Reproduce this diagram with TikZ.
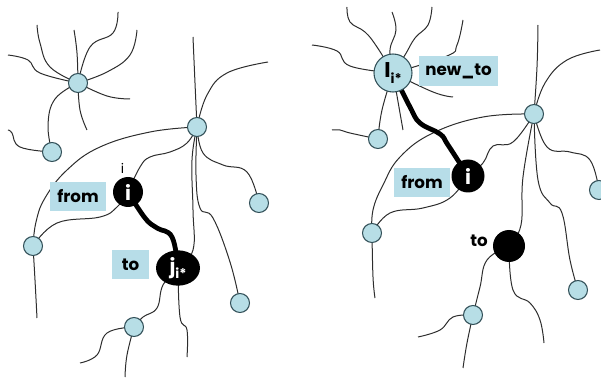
\documentclass[tikz,border=0pt]{standalone}
\usepackage{fontspec}
\setmainfont{Poppins}
\usetikzlibrary{backgrounds,shapes.geometric}
\definecolor{nfill}{RGB}{183,222,230}
\definecolor{nedge}{RGB}{50,80,88}
\definecolor{lfill}{RGB}{183,221,232}
\definecolor{dend}{RGB}{45,45,45}
\tikzset{
 neuron/.style={circle, fill=nfill, draw=nedge, line width=0.8pt, minimum size=14.25pt, inner sep=0pt},
 blk/.style={circle, fill=black, inner sep=0pt, text=white, font=\bfseries\fontsize{15}{15}\selectfont},
 lbl/.style={fill=lfill, inner sep=0pt, font=\bfseries\fontsize{12.5}{12.5}\selectfont, minimum height=21.75pt},
 dendrite/.style={draw=dend, line width=0.75pt},
 axon/.style={draw=black, line width=3.6pt},
}
\begin{document}
\begin{tikzpicture}[x=0.75pt,y=-0.75pt]
\useasboundingbox (0,0) rectangle (601,378);
% ---------- left panel nodes
\node[neuron] (A) at (78,83) {};
\node[neuron] (B) at (52,152) {};
\node[neuron] (C) at (197,127) {};
\node[neuron] (D) at (33,246) {};
\node[neuron] (E) at (259,203) {};
\node[neuron] (F) at (240,303) {};
\node[neuron] (G) at (134,327) {};
\node[blk, minimum size=22.5pt] (i1) at (128,192) {i};
\node[ellipse, fill=black, inner sep=0pt, minimum width=33pt, minimum height=26.5pt, text=white, font=\bfseries\fontsize{15}{15}\selectfont] (j) at (178,268) {j\raisebox{-0.45ex}{\fontsize{10}{10}\selectfont i*}};
\node[font=\fontsize{10}{10}\selectfont, inner sep=0pt, anchor=base] (tick) at (122.5,174) {i};
\node[lbl, minimum width=42pt] (lfrom) at (78,196.5) {from};
\node[lbl, minimum width=27.75pt] (lto) at (130.5,264.5) {to};
% free ends
\coordinate (a1) at (37,25);
\coordinate (a2) at (74,30);
\coordinate (a3) at (118,12);
\coordinate (a4) at (137,30);
\coordinate (a5) at (8,55);
\coordinate (a6) at (130,99);
\coordinate (a7) at (87,130);
\coordinate (b1) at (8,130);
\coordinate (c1) at (193,37);
\coordinate (c2) at (268,62);
\coordinate (d1) at (37,318);
\coordinate (g1) at (80,363);
\coordinate (g2) at (125,377);
\coordinate (j1) at (187,357);
% ---------- right panel nodes
\node[neuron, minimum size=28.5pt, text=black, font=\bfseries\fontsize{16}{16}\selectfont] (L) at (393,73) {I\raisebox{-0.45ex}{\fontsize{10}{10}\selectfont i*}};
\node[neuron] (M) at (378,139) {};
\node[neuron] (N) at (534,114) {};
\node[neuron] (O) at (372,233) {};
\node[neuron] (P) at (599,190) {};
\node[neuron] (R) at (578,290) {};
\node[neuron] (Q) at (473,315) {};
\node[blk, minimum size=24.75pt] (i2) at (468,176) {i};
\node[blk, minimum size=24pt] (T) at (509,246) {};
\node[lbl, minimum width=59.25pt, minimum height=22.5pt] (lnew) at (458.5,71) {new\_to};
\node[lbl, minimum width=42pt] (rfrom) at (422,182.5) {from};
\node[font=\bfseries\fontsize{12.5}{12.5}\selectfont, inner sep=0pt] (rto) at (479,241) {to};
\coordinate (l1) at (347,7);
\coordinate (l2) at (392,12);
\coordinate (l3) at (432,7);
\coordinate (l4) at (463,20);
\coordinate (l5) at (312,45);
\coordinate (l6) at (453,97);
\coordinate (l7) at (403,130);
\coordinate (m1) at (332,130);
\coordinate (n1) at (538,25);
\coordinate (n2) at (600,50);
\coordinate (o1) at (375,298);
\coordinate (t1) at (544,343);
\coordinate (q1) at (418,337);
\coordinate (q2) at (463,368);
\begin{scope}[on background layer]
% left panel dendrites
\draw[dendrite] plot[smooth, tension=0.7] coordinates {(A.center) (50,67) (40,43) (a1)};
\draw[dendrite] plot[smooth, tension=0.7] coordinates {(A.center) (77,53) (a2)};
\draw[dendrite] plot[smooth, tension=0.7] coordinates {(A.center) (90,47) (113,33) (a3)};
\draw[dendrite] plot[smooth, tension=0.7] coordinates {(A.center) (107,72) (130,55) (a4)};
\draw[dendrite] plot[smooth, tension=0.7] coordinates {(A.center) (40,73) (28,60) (a5)};
\draw[dendrite] plot[smooth, tension=0.7] coordinates {(A.center) (107,96) (a6)};
\draw[dendrite] plot[smooth, tension=0.7] coordinates {(A.center) (80,110) (a7)};
\draw[dendrite] plot[smooth, tension=0.7] coordinates {(A.center) (55,99) (48,125) (B.center)};
\draw[dendrite] plot[smooth, tension=0.7] coordinates {(B.center) (20,147) (12,133) (b1)};
\draw[dendrite] plot[smooth, tension=0.7] coordinates {(C.center) (195,83) (c1)};
\draw[dendrite] plot[smooth, tension=0.7] coordinates {(C.center) (207,95) (227,73) (c2)};
\draw[dendrite] plot[smooth, tension=0.7] coordinates {(C.center) (150,132) (100,147) (67,170) (45,198) (36,222) (D.center)};
\draw[dendrite] plot[smooth, tension=0.7] coordinates {(C.center) (187,143) (170,152) (150,157) (140,167) (i1.center)};
\draw[dendrite] plot[smooth, tension=0.7] coordinates {(C.center) (203,153) (223,165) (247,172) (E.center)};
\draw[dendrite] plot[smooth, tension=0.7] coordinates {(C.center) (192,160) (193,210) (193,250) (j.center)};
\draw[dendrite] plot[smooth, tension=0.7] coordinates {(C.center) (196,175) (200,208) (213,218) (230,262) (F.center)};
\draw[dendrite] plot[smooth, tension=0.7] coordinates {(D.center) (57,223) (100,217) (117,207) (i1.center)};
\draw[dendrite] plot[smooth, tension=0.7] coordinates {(D.center) (35,280) (d1)};
\draw[dendrite] plot[smooth, tension=0.7] coordinates {(j.center) (163,285) (157,308) (143,317) (G.center)};
\draw[dendrite] plot[smooth, tension=0.7] coordinates {(j.center) (180,317) (187,330) (j1)};
\draw[dendrite] plot[smooth, tension=0.7] coordinates {(G.center) (107,333) (97,355) (g1)};
\draw[dendrite] plot[smooth, tension=0.7] coordinates {(G.center) (127,355) (g2)};
\draw[axon] plot[smooth, tension=0.7] coordinates {(i1.center) (145,218) (157,228) (172,237) (j.center)};
% right panel dendrites
\draw[dendrite] plot[smooth, tension=0.7] coordinates {(L.center) (377,47) (365,32) (350,22) (l1)};
\draw[dendrite] plot[smooth, tension=0.7] coordinates {(L.center) (390,50) (396,30) (l2)};
\draw[dendrite] plot[smooth, tension=0.7] coordinates {(L.center) (405,55) (415,38) (428,25) (l3)};
\draw[dendrite] plot[smooth, tension=0.7] coordinates {(L.center) (447,56) (457,45) (l4)};
\draw[dendrite] plot[smooth, tension=0.7] coordinates {(L.center) (350,66) (337,51) (l5)};
\draw[dendrite] plot[smooth, tension=0.7] coordinates {(L.center) (433,92) (l6)};
\draw[dendrite] plot[smooth, tension=0.7] coordinates {(L.center) (400,113) (l7)};
\draw[dendrite] plot[smooth, tension=0.7] coordinates {(L.center) (382,110) (M.center)};
\draw[dendrite] plot[smooth, tension=0.7] coordinates {(M.center) (350,133) (340,130) (m1)};
\draw[dendrite] plot[smooth, tension=0.7] coordinates {(N.center) (537,67) (n1)};
\draw[dendrite] plot[smooth, tension=0.7] coordinates {(N.center) (545,83) (567,60) (n2)};
\draw[dendrite] plot[smooth, tension=0.7] coordinates {(N.center) (483,117) (433,133) (400,157) (383,185) (373,210) (O.center)};
\draw[dendrite] plot[smooth, tension=0.7] coordinates {(N.center) (513,142) (493,146) (483,163) (i2.center)};
\draw[dendrite] plot[smooth, tension=0.7] coordinates {(N.center) (523,177) (521,225) (T.center)};
\draw[dendrite] plot[smooth, tension=0.7] coordinates {(N.center) (538,180) (550,203) (562,213) (570,260) (R.center)};
\draw[dendrite] plot[smooth, tension=0.7] coordinates {(N.center) (547,147) (570,152) (590,160) (P.center)};
\draw[dendrite] plot[smooth, tension=0.7] coordinates {(O.center) (390,213) (423,208) (450,198) (i2.center)};
\draw[dendrite] plot[smooth, tension=0.7] coordinates {(O.center) (373,277) (o1)};
\draw[dendrite] plot[smooth, tension=0.7] coordinates {(T.center) (487,260) (480,287) (Q.center)};
\draw[dendrite] plot[smooth, tension=0.7] coordinates {(T.center) (513,290) (530,303) (540,320) (t1)};
\draw[dendrite] plot[smooth, tension=0.7] coordinates {(Q.center) (453,317) (440,330) (q1)};
\draw[dendrite] plot[smooth, tension=0.7] coordinates {(Q.center) (467,343) (q2)};
\draw[axon] plot[smooth, tension=0.7] coordinates {(L.center) (410,107) (420,123) (440,134) (448,145) (i2.center)};
\end{scope}
\end{tikzpicture}
\end{document}
